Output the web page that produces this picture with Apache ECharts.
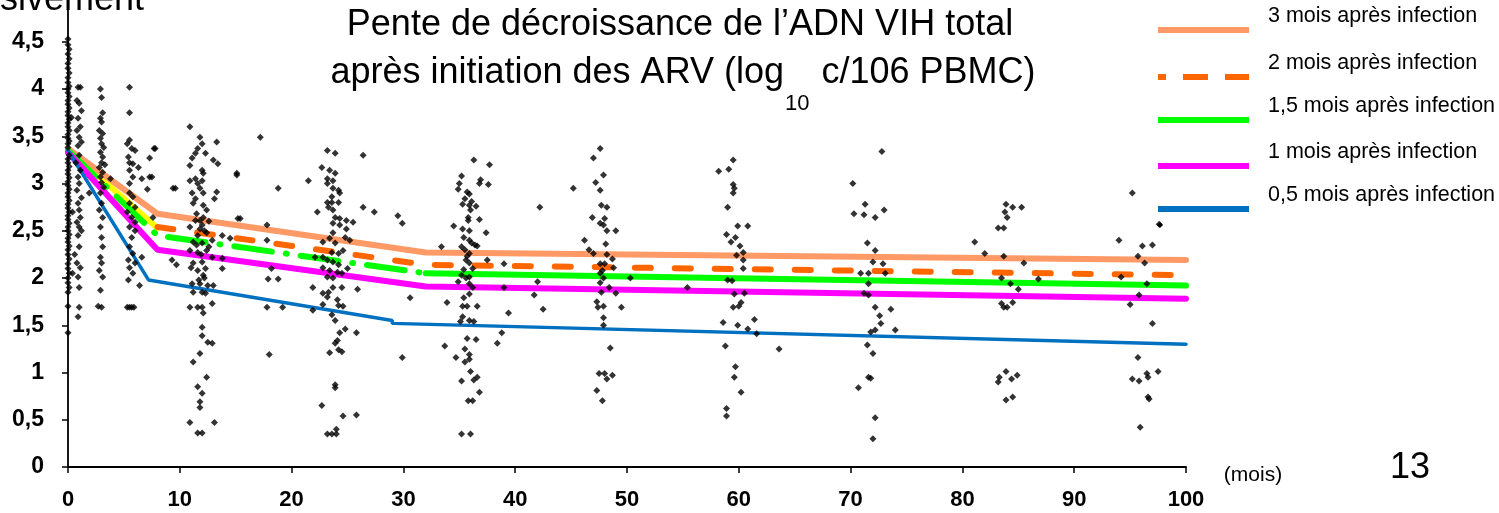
<!DOCTYPE html>
<html>
<head>
<meta charset="utf-8">
<script src="https://cdn.jsdelivr.net/npm/echarts@6/dist/echarts.min.js"></script>
<style>
  html, body { margin: 0; padding: 0; background: #fff; }
  #chart { width: 1499px; height: 513px; }
</style>
</head>
<body>
<div id="chart"></div>
<script>
// model curves: [month, log10 copies]
const curve3m = [[0, 3.37], [8, 2.68], [32, 2.27], [100, 2.19]];
const curve2mEarly = [[0, 3.36], [8, 2.53]];
const curve2m = [[8, 2.54], [32, 2.14], [100, 2.03]];
const curve15mEarly = [[0, 3.35], [8, 2.45], [32, 2.05]];
const curve15m = [[32, 2.05], [100, 1.92]];
const curve1m = [[0, 3.33], [8, 2.3], [32, 1.91], [100, 1.78]];
const curve05m = [[0, 3.35], [7.2, 1.98], [29, 1.55], [29, 1.52], [100, 1.3]];

const legendLabels = [
  "3 mois après infection",
  "2 mois après infection",
  "1,5 mois après infection",
  "1 mois après infection",
  "0,5 mois après infection",
];

// individual measurements [month, value]
const patientPts = [
  // M0
  [0,4.53],[0,4.47],[0.1,4.42],[0,4.37],[0.1,4.32],[0,4.27],[0,4.22],[0.1,4.17],[0,4.12],[0,4.07],
  [0.1,4.03],[0,4.0],[0,3.96],[0.1,3.92],[0,3.88],[0,3.84],[0.1,3.8],[0,3.76],[0,3.72],[0.1,3.68],
  [0,3.64],[0,3.6],[0.1,3.56],[0,3.52],[0,3.48],[0.1,3.45],[0,3.42],[0,3.38],[0.1,3.3],[0,3.26],
  [0,3.22],[0.1,3.18],[0,3.14],[0,3.1],[0.1,3.06],[0,3.02],[0,2.98],[0.1,2.94],[0,2.9],[0,2.86],
  [0.1,2.82],[0,2.78],[0,2.74],[0.1,2.7],[0,2.66],[0,2.62],[0.1,2.58],[0,2.54],[0,2.5],[0.1,2.46],
  [0,2.42],[0,2.38],[0.1,2.34],[0,2.3],[0,2.25],[0.1,2.2],[0,2.15],[0,2.1],[0.1,2.05],[0,2.0],
  [0,1.95],[0.1,1.9],[0,1.85],[0,1.7],[0,1.42],[0.4,2.7],[0.4,2.05],[0.3,3.7],
  // M1
  [0.9,4.02],[1.1,4.02],[0.8,3.88],[1.0,3.85],[1.2,3.77],[0.9,3.69],[1.1,3.6],[0.8,3.56],[1.0,3.49],
  [1.2,3.44],[0.9,3.4],[1.0,3.3],[0.7,3.22],[1.1,3.14],[0.9,3.07],[1.0,3.0],[0.8,2.93],[1.2,2.85],
  [0.9,2.79],[1.0,2.72],[1.1,2.64],[0.8,2.59],[1.0,2.54],[1.2,2.5],[0.9,2.45],[1.0,2.33],[0.8,2.16],
  [1.1,2.11],[0.9,2.01],[1.0,1.9],[1.0,1.69],[0.9,1.59],[1.9,2.9],[0.6,2.25],
  // M3
  [2.9,4.0],[3.0,3.91],[3.1,3.75],[2.9,3.69],[3.0,3.65],[2.8,3.56],[3.1,3.53],[2.9,3.48],[3.0,3.42],
  [3.2,3.38],[2.9,3.33],[3.1,3.28],[3.0,3.22],[2.8,3.17],[3.1,3.12],[2.9,3.07],[3.0,3.01],[3.2,2.96],
  [2.9,2.9],[3.0,2.79],[2.8,2.72],[3.1,2.64],[2.9,2.54],[3.0,2.43],[3.1,2.33],[2.9,2.22],[3.0,2.16],
  [2.8,2.08],[3.1,2.01],[2.9,1.87],[3.0,1.69],[3.3,3.2],[3.8,3.05],[2.7,1.7],
  // M6
  [5.5,4.02],[5.5,3.75],[5.5,3.46],[5.3,3.42],[5.7,3.37],[6.0,3.35],[7.7,3.37],[5.4,3.28],[5.5,3.22],
  [5.8,3.21],[6.3,3.17],[7.3,3.27],[5.5,3.14],[5.8,3.07],[6.6,3.05],[7.5,3.07],[5.5,3.0],[7.1,2.94],
  [5.5,2.9],[5.8,2.86],[5.5,2.79],[6.0,2.75],[5.3,2.7],[5.7,2.64],[6.0,2.59],[7.6,2.64],[5.5,2.54],
  [6.0,2.5],[5.7,2.43],[5.5,2.33],[5.8,2.26],[6.6,2.22],[5.4,2.19],[6.0,2.16],[5.5,2.11],[5.8,2.05],
  [5.4,1.98],[6.4,1.92],[5.3,1.69],[5.5,1.69],[5.7,1.69],[5.9,1.69],[7.3,3.07],[7.8,3.37],
  // between M6 and M12
  [9.6,2.95],[9.3,2.19],[9.7,2.14],[9.4,2.95],
  // M12
  [10.9,3.6],[13.3,3.44],[11.8,3.49],[12.0,3.42],[11.6,3.37],[11.4,3.32],[12.3,3.32],[13.0,3.25],
  [13.4,3.21],[11.1,3.27],[10.9,3.19],[12.0,3.14],[12.1,3.11],[15.1,3.11],[10.9,3.03],[11.4,3.05],
  [12.0,3.03],[11.6,3.0],[11.8,2.95],[11.1,2.9],[12.1,2.9],[13.3,2.91],[11.4,2.84],[13.1,2.84],
  [11.2,2.79],[12.1,2.77],[12.4,2.72],[11.5,2.68],[12.1,2.64],[11.4,2.61],[11.8,2.61],[15.2,2.63],
  [10.9,2.54],[12.0,2.56],[12.4,2.48],[11.6,2.45],[12.9,2.4],[13.8,2.45],[14.5,2.42],[11.2,2.38],
  [12.0,2.37],[10.9,2.29],[11.6,2.27],[12.4,2.29],[12.9,2.22],[13.8,2.21],[11.0,2.11],[11.2,2.16],
  [12.0,2.17],[11.6,2.08],[12.3,2.1],[12.1,2.03],[11.1,1.94],[11.8,1.94],[12.5,1.92],[13.0,1.92],
  [11.2,1.85],[12.0,1.85],[12.3,1.84],[11.6,1.69],[12.0,1.69],[10.9,1.69],[12.9,1.73],[12.1,1.63],
  [12.0,1.48],[12.0,1.39],[12.5,1.32],[12.9,1.31],[11.8,1.2],[11.2,1.11],[12.4,0.95],[11.6,0.85],
  [12.0,0.78],[11.8,0.69],[11.8,0.63],[10.9,0.47],[13.1,0.47],[11.6,0.36],[12.0,0.36],
  [11.8,2.52],[12.2,2.5],[11.5,2.35],[12.6,2.33],[11.9,2.25],[12.2,2.0],[11.7,1.98],[12.6,2.6],
  // between M12 and M24
  [17.2,3.49],[15.1,3.09],[18.8,2.95],[15.4,2.63],[13.8,2.1],[17.8,2.56],[17.8,2.4],[18.2,2.1],
  [17.9,1.99],[18.8,1.99],[17.8,1.69],[19.2,1.69],[18.0,1.19],[21.5,3.03],[21.9,1.9],
  // M24
  [23.2,3.35],[23.9,3.32],[26.4,3.3],[22.7,3.17],[23.4,3.14],[23.9,3.11],[23.2,3.05],[23.7,3.03],
  [23.2,3.0],[23.7,2.95],[24.2,2.93],[24.3,2.9],[23.6,2.86],[23.2,2.8],[23.6,2.8],[24.2,2.8],
  [23.3,2.75],[23.7,2.72],[26.4,2.75],[22.3,2.7],[27.4,2.7],[23.9,2.64],[24.3,2.63],[24.9,2.61],
  [25.5,2.59],[23.7,2.58],[24.3,2.56],[24.9,2.52],[23.7,2.48],[23.4,2.42],[24.8,2.43],[25.2,2.4],
  [22.8,2.38],[23.9,2.37],[24.6,2.29],[23.6,2.27],[24.2,2.26],[22.1,2.22],[22.8,2.22],[23.2,2.19],
  [23.7,2.17],[24.2,2.14],[22.8,2.11],[23.4,2.08],[24.1,2.06],[23.2,2.01],[23.7,2.0],[25.0,2.1],
  [24.5,2.05],[23.7,1.9],[24.5,1.9],[25.9,1.88],[22.8,1.84],[23.3,1.85],[24.1,1.77],[24.2,1.71],
  [24.6,1.7],[22.8,1.72],[23.2,1.8],[21.9,1.66],[23.6,1.61],[23.9,1.55],[24.3,1.42],[24.8,1.46],
  [25.8,1.42],[24.1,1.34],[23.9,1.31],[24.2,1.24],[23.4,1.21],[24.5,1.22],[23.9,0.87],[23.9,0.84],
  [22.7,0.65],[24.6,0.54],[25.8,0.55],[24.0,0.4],[23.2,0.35],[23.6,0.35],[24.0,0.35],
  // between M24 and M36
  [29.5,2.66],[29.9,2.58],[30.6,1.79],[29.9,1.16],
  // M36
  [36.3,3.25],[37.7,3.2],[35.2,3.08],[36.9,3.04],[35.0,3.0],[36.8,3.0],[37.6,2.99],[34.9,2.94],
  [35.7,2.91],[35.9,2.89],[35.5,2.84],[36.1,2.81],[35.3,2.78],[35.9,2.77],[36.5,2.76],[36.0,2.72],
  [35.8,2.64],[35.8,2.61],[36.8,2.62],[34.5,2.55],[35.3,2.52],[35.9,2.5],[37.4,2.48],[35.4,2.43],
  [35.9,2.4],[36.1,2.37],[36.4,2.35],[33.4,2.33],[35.2,2.33],[35.5,2.3],[36.6,2.34],[35.7,2.23],
  [35.9,2.26],[35.6,2.19],[37.5,2.19],[35.9,2.16],[35.4,2.09],[36.2,2.1],[35.2,2.03],[35.6,2.0],
  [35.9,2.01],[34.9,1.96],[35.9,1.94],[36.2,1.9],[39.0,1.9],[35.9,1.83],[35.4,1.79],[33.9,1.74],
  [35.3,1.7],[35.7,1.7],[36.6,1.7],[39.4,1.63],[35.3,1.59],[35.1,1.54],[35.9,1.55],[36.3,1.54],
  [38.8,1.42],[35.7,1.36],[36.5,1.35],[38.4,1.31],[33.7,1.28],[35.5,1.25],[35.9,1.19],[34.7,1.16],
  [35.5,1.11],[35.9,1.14],[36.0,1.01],[35.2,0.91],[36.3,0.92],[36.6,0.95],[36.8,0.79],[35.8,0.7],
  [36.2,0.7],[35.2,0.35],[36.0,0.35],[39.0,2.15],
  // between M36 and M48
  [42.2,2.75],[42.0,1.96],[41.7,1.82],[42.5,1.67],
  // M48
  [47.6,3.37],[47.0,3.27],[47.9,3.09],[47.2,3.01],[47.6,2.93],[45.2,2.95],[47.7,2.77],[48.2,2.75],
  [46.9,2.64],[48.0,2.63],[47.6,2.58],[47.9,2.56],[48.2,2.5],[49.0,2.5],[46.2,2.4],[48.1,2.36],
  [46.6,2.3],[47.0,2.26],[48.2,2.25],[48.7,2.2],[47.6,2.15],[48.0,2.15],[48.8,2.11],[47.8,2.08],
  [50.3,2.0],[47.6,2.05],[47.9,2.0],[47.6,1.95],[48.4,1.9],[47.7,1.85],[49.0,1.84],[47.3,1.75],
  [47.4,1.69],[47.9,1.7],[49.5,1.69],[47.9,1.58],[47.9,1.5],[48.5,1.26],[47.5,0.99],[48.0,0.99],
  [48.7,0.97],[48.2,0.93],[47.3,0.81],[47.8,0.7],
  [55.4,1.9],
  // M60
  [59.5,3.25],[58.2,3.13],[59.1,3.15],[59.5,2.99],[59.6,2.95],[59.5,2.9],[59.0,2.75],[59.9,2.55],
  [60.8,2.55],[58.9,2.46],[59.7,2.43],[59.3,2.38],[60.1,2.34],[60.4,2.27],[59.8,2.24],[60.4,2.19],
  [60.4,2.1],[59.0,1.98],[59.4,1.97],[59.6,1.83],[60.5,1.84],[60.2,1.74],[59.5,1.69],[60.0,1.7],
  [61.4,1.56],[58.6,1.53],[59.9,1.5],[60.8,1.46],[61.6,1.41],[58.8,1.28],[59.7,1.06],[59.6,0.95],
  [60.2,0.79],[58.9,0.62],[58.9,0.54],
  [63.6,1.25],
  // M72
  [72.8,3.34],[70.2,3.0],[70.3,2.68],[71.2,2.67],[71.3,2.78],[72.2,2.64],[73.0,2.72],[71.5,2.37],
  [72.2,2.29],[72.0,2.17],[72.9,2.15],[73.1,2.05],[70.9,2.05],[71.6,2.05],[71.6,1.94],[71.2,1.84],
  [71.6,1.82],[72.2,1.69],[72.6,1.6],[73.6,1.67],[72.7,1.52],[72.2,1.45],[71.8,1.43],[74.0,1.45],
  [71.5,1.29],[72.0,1.2],[71.6,0.95],[71.8,0.94],[70.7,0.84],[72.2,0.52],[72.0,0.3],
  // M84
  [83.9,2.78],[84.5,2.75],[85.3,2.75],[83.8,2.7],[84.0,2.64],[83.2,2.53],[83.7,2.53],[81.1,2.38],
  [82.0,2.26],[83.7,2.23],[85.5,2.16],[83.5,2.0],[84.3,1.94],[86.8,1.99],[85.0,1.88],[83.5,1.73],
  [83.7,1.69],[84.0,1.69],[84.5,1.74],[83.9,1.01],[83.3,0.95],[84.9,0.97],[84.4,0.93],[83.2,0.9],
  [83.9,0.71],[84.5,0.74],
  // M96
  [95.2,2.9],[97.6,2.57],[94.0,2.4],[96.1,2.34],[97.0,2.35],[95.7,2.23],[96.3,2.16],[94.2,2.01],
  [96.5,1.94],[95.8,1.82],[95.0,1.72],[97.0,1.52],[95.7,1.16],[97.5,1.01],[95.2,0.93],[95.8,0.91],
  [96.5,0.99],[96.6,0.95],[96.6,0.74],[96.7,0.72],[95.9,0.42],
];

const xTicks = { min: 0, max: 100, interval: 10 };
const yTicks = { min: 0, max: 4.9, interval: 0.5 };

const legendColors = ["#FF9966", "#FF6600", "#00FF00", "#FF00FF", "#0070C0"];

const chart = echarts.init(document.getElementById("chart"));

const lineSeries = (data, color, width, dash, z) => ({
  type: "line",
  data: data,
  symbol: "none",
  silent: true,
  z: z,
  lineStyle: { color: color, width: width, type: dash || "solid", cap: "round" },
});

// legend drawn by hand: swatch under/left of its label
const legendGraphics = [];
const legendRows = [30, 77, 120, 166, 209];
legendLabels.forEach((label, i) => {
  legendGraphics.push({
    type: "line",
    shape: { x1: 1158, y1: legendRows[i], x2: 1249, y2: legendRows[i] },
    style: {
      stroke: legendColors[i],
      lineWidth: 6,
      lineDash: i === 1 ? [8, 17, 25, 17, 24, 20] : null,
    },
  });
  legendGraphics.push({
    type: "text",
    x: 1268,
    y: legendRows[i] - 14,
    style: {
      text: label,
      font: "21.5px 'Liberation Sans', Arial, sans-serif",
      fill: "#000",
      textVerticalAlign: "middle",
    },
  });
});

const option = {
  animation: false,
  backgroundColor: "#fff",
  grid: { left: 68, right: 313, top: 4, bottom: 46 },
  xAxis: {
    type: "value",
    min: xTicks.min,
    max: xTicks.max,
    interval: xTicks.interval,
    axisLine: { lineStyle: { color: "#000", width: 1.8 } },
    axisTick: { show: true, length: 6, lineStyle: { color: "#000", width: 1.5 } },
    splitLine: { show: false },
    axisLabel: {
      margin: 22,
      color: "#000",
      fontSize: 22,
      fontWeight: "bold",
      fontFamily: "'Liberation Sans', Arial, sans-serif",
    },
  },
  yAxis: {
    type: "value",
    min: yTicks.min,
    max: yTicks.max,
    interval: yTicks.interval,
    axisLine: { show: true, lineStyle: { color: "#000", width: 1.8 } },
    axisTick: { show: true, length: 6, lineStyle: { color: "#000", width: 1.5 } },
    splitLine: { show: false },
    axisLabel: {
      margin: 24,
      showMaxLabel: false,
      color: "#000",
      fontSize: 23,
      fontWeight: "bold",
      fontFamily: "'Liberation Sans', Arial, sans-serif",
      formatter: (v) => String(v).replace(".", ","),
    },
  },
  series: [
    lineSeries(curve2mEarly, "#FFFF00", 6, null, 1),
    lineSeries(curve3m, legendColors[0], 6, null, 2),
    lineSeries(curve2m, legendColors[1], 6, [16, 24], 3),
    lineSeries(curve15mEarly, legendColors[2], 6, [38, 14, 1, 14], 4),
    lineSeries(curve15m, legendColors[2], 6, null, 4),
    lineSeries(curve1m, legendColors[3], 6, null, 5),
    lineSeries(curve05m, legendColors[4], 3.5, null, 6),
    {
      type: "scatter",
      data: patientPts,
      symbol: "diamond",
      symbolSize: 7,
      z: 10,
      itemStyle: { color: "#000" },
    },
  ],
  graphic: [
    {
      type: "text",
      x: 0,
      y: 18,
      style: {
        text: "sivement",
        font: "36px 'Liberation Sans', Arial, sans-serif",
        fill: "#000",
        textVerticalAlign: "bottom",
      },
    },
    {
      type: "text",
      x: 680,
      y: 25,
      style: {
        text: "Pente de décroissance de l’ADN VIH total",
        font: "36px 'Liberation Sans', Arial, sans-serif",
        fill: "#000",
        textAlign: "center",
        textVerticalAlign: "middle",
      },
    },
    {
      type: "text",
      x: 683,
      y: 51,
      style: {
        text: "{m|après initiation des ARV (log}{s|10}{m| c/106 PBMC)}",
        textAlign: "center",
        rich: {
          m: { font: "36px 'Liberation Sans', Arial, sans-serif", lineHeight: 44, fill: "#000" },
          s: { font: "22px 'Liberation Sans', Arial, sans-serif", lineHeight: 22, padding: [62, 2, 0, 1], fill: "#000" },
        },
      },
    },
    ...legendGraphics,
    {
      type: "polygon",
      shape: { points: [[1160, 222], [1163, 225], [1160, 228], [1157, 225]] },
      style: { fill: "#000" },
    },
    {
      type: "text",
      x: 1253,
      y: 475,
      style: {
        text: "(mois)",
        font: "21px 'Liberation Sans', Arial, sans-serif",
        fill: "#000",
        textAlign: "center",
        textVerticalAlign: "middle",
      },
    },
    {
      type: "text",
      x: 1410,
      y: 468,
      style: {
        text: "13",
        font: "36px 'Liberation Sans', Arial, sans-serif",
        fill: "#000",
        textAlign: "center",
        textVerticalAlign: "middle",
      },
    },
  ],
};

chart.setOption(option);
</script>
</body>
</html>
